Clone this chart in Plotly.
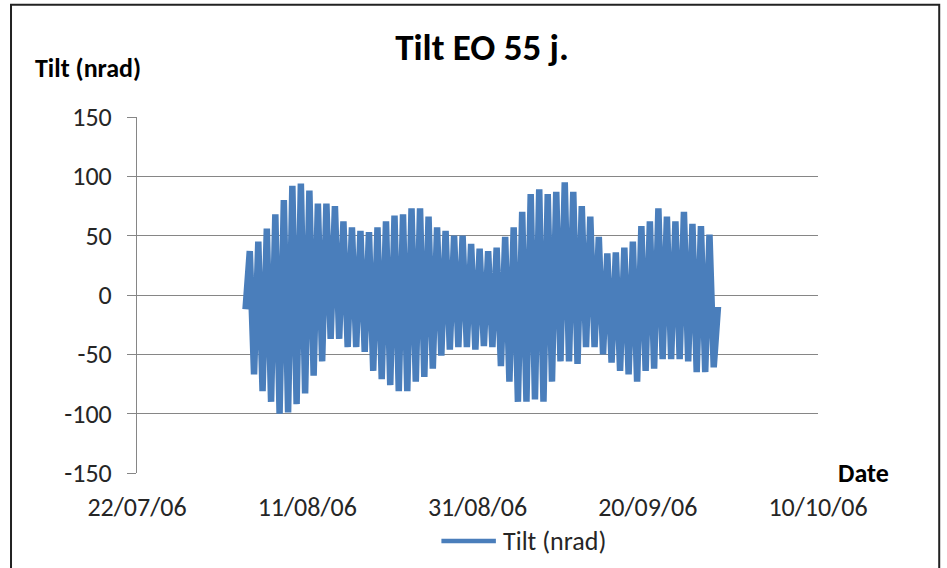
import pandas as pd
import plotly.graph_objects as go

# Daily tilt extremes (nrad), one entry per day
daily_high = [37, 45, 56, 68, 80, 92, 94, 88, 77, 77, 75, 62, 57, 54,
              53, 57, 62, 67, 68, 73, 73, 66, 57, 54, 50, 50, 43, 39,
              37, 40, 49, 57, 70, 85, 89, 85, 87, 95, 87, 75, 66, 49,
              35, 36, 40, 45, 58, 62, 73, 66, 62, 70, 60, 58, 51]
daily_low = [-67, -81, -90, -100, -99, -92, -83, -68, -56, -37, -37, -44, -44, -48,
             -64, -71, -76, -81, -81, -73, -69, -62, -51, -46, -44, -44, -46, -43,
             -44, -60, -73, -90, -90, -88, -90, -73, -56, -56, -58, -44, -44, -50,
             -57, -64, -67, -73, -64, -62, -54, -54, -54, -56, -65, -65, -61]
start_value = -12
end_value = -10
first_sample = '2006-08-03 18:00'

y_ticks = [-150, -100, -50, 0, 50, 100, 150]
y_tick_text = ['-150', '-100', '-50', '0', '50', '100', '150']

# samples every 12 hours: daily high then daily low
values = [start_value]
for hi, lo in zip(daily_high, daily_low):
    values += [hi, lo]
values.append(end_value)
dates = pd.date_range(first_sample, periods=len(values), freq='12h')

FONT = 'Calibri, Carlito, "Open Sans", sans-serif'
GRID = '#868686'
BLUE = '#4a7ebb'

fig = go.Figure()
fig.add_trace(go.Scatter(
    x=dates, y=values, mode='lines', name='Tilt (nrad)',
    line=dict(color=BLUE, width=6.5)
))

fig.update_layout(
    width=947, height=568,
    margin=dict(l=137, r=129, t=117, b=95, autoexpand=False),
    paper_bgcolor='white', plot_bgcolor='white',
    font=dict(family=FONT, size=26, color='#262626'),
    title=dict(text='<b>Tilt EO 55 j.</b>', x=0.509, xanchor='center',
               y=0.917, yanchor='middle', font=dict(size=37, color='black')),
    showlegend=False,
    annotations=[
        dict(text='<b>Tilt (nrad)</b>', xref='paper', yref='paper', x=-0.153, y=1.137,
             xanchor='left', yanchor='middle', showarrow=False,
             font=dict(size=26, color='black')),
        dict(text='<b>Date</b>', xref='paper', yref='paper', x=1.027, y=0.0,
             xanchor='left', yanchor='middle', showarrow=False,
             font=dict(size=26, color='black')),
        # legend entry, drawn by hand to get the Excel-style long line sample
        dict(text='Tilt (nrad)', xref='paper', yref='paper', x=0.534, y=-0.191,
             xanchor='left', yanchor='middle', showarrow=False,
             font=dict(size=26, color='#262626')),
    ],
    shapes=[
        dict(type='rect', xref='paper', yref='paper', x0=-0.185, x1=1.178,
             y0=-0.28, y1=1.315, line=dict(color='#222222', width=2)),
        dict(type='line', xref='paper', yref='paper', x0=0.447, x1=0.527,
             y0=-0.191, y1=-0.191, line=dict(color=BLUE, width=4.5)),
    ],
)

fig.update_xaxes(
    range=['2006-07-22', '2006-10-10'], tick0='2006-07-22', dtick=20 * 86400000,
    tickformat='%d/%m/%y', showgrid=False, showline=False, ticks='',
    ticklabelstandoff=16, zeroline=False, automargin=False
)
fig.update_yaxes(
    range=[-150, 150], tickvals=y_ticks, ticktext=y_tick_text,
    showgrid=True, gridcolor=GRID, gridwidth=1,
    zeroline=True, zerolinecolor=GRID, zerolinewidth=1,
    showline=True, linecolor=GRID, ticks='outside', ticklen=9, tickcolor=GRID,
    ticklabelstandoff=10, automargin=False
)

fig.write_html('out.html', config={'displayModeBar': False},
               post_script="document.body.style.margin='0';")
